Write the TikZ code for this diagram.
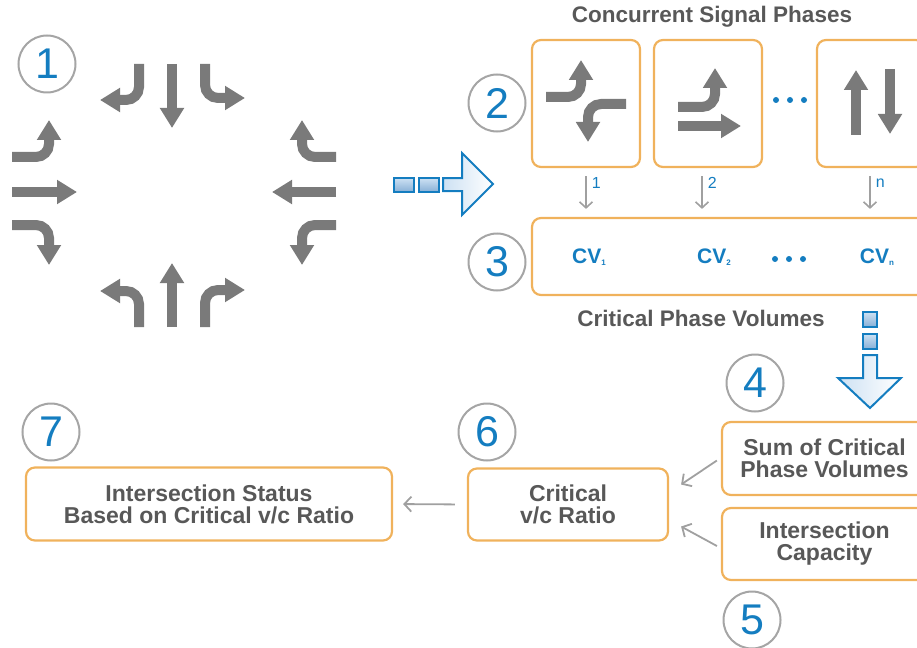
\documentclass[tikz,border=0pt]{standalone}
\usepackage{fontspec}
\setmainfont{Liberation Sans}
\usetikzlibrary{arrows.meta}

\definecolor{boxorange}{RGB}{240,178,92}
\definecolor{numblue}{RGB}{20,125,192}
\definecolor{lanegrey}{RGB}{122,122,122}
\definecolor{ringgrey}{RGB}{165,165,165}
\definecolor{textgrey}{RGB}{88,88,88}
\definecolor{flowgrey}{RGB}{160,160,160}
\definecolor{blockfill}{RGB}{205,225,243}
\definecolor{blocksq}{RGB}{135,175,214}

\tikzset{
  stepnum/.style={circle, draw=ringgrey, line width=2pt, minimum size=57pt,
    inner sep=0pt, text=numblue, font=\fontsize{43}{43}\selectfont},
  phasebox/.style={draw=boxorange, line width=2.2pt, rounded corners=9pt,
    minimum width=108pt, minimum height=127pt},
  infobox/.style={draw=boxorange, line width=2.2pt, rounded corners=9pt,
    align=center, text=textgrey, font=\fontsize{23}{22}\selectfont\bfseries},
  caption/.style={text=textgrey, font=\fontsize{22.5}{22}\selectfont\bfseries},
  cvtext/.style={text=numblue, font=\fontsize{21}{21}\selectfont\bfseries},
  lane/.style={line width=10pt, lanegrey, -{Triangle[width=23pt,length=20pt]}},
  turn/.style={lane, rounded corners=13pt},
  flow/.style={line width=1.8pt, flowgrey, -{Straight Barb[length=7pt,width=15pt]}},
  tick/.style={line width=1.6pt, flowgrey, -{Straight Barb[length=6pt,width=13pt]},
    shorten <=8pt, shorten >=8pt},
  ticklabel/.style={text=numblue, font=\fontsize{16}{16}\selectfont, inner sep=1pt},
  blockarrow/.style={draw=numblue, line width=2pt, line join=miter,
    left color=blockfill, right color=white},
  blocksquare/.style={draw=numblue, line width=1.6pt, top color=blockfill, bottom color=blocksq},
  dot/.style={circle, fill=numblue, inner sep=0pt, minimum size=6pt},
}
\newcommand{\sublabel}[1]{\raisebox{-2pt}{\fontsize{8}{8}\selectfont #1}}

\begin{document}
\begin{tikzpicture}[x=1pt, y=-1pt]
    \useasboundingbox (0,0) rectangle (917,647);
    \clip (0,0) rectangle (917,647);

    % Step numbers
    \node[stepnum] (n1) at (47,64) {1};
    \node[stepnum] (n2) at (497,103) {2};
    \node[stepnum] (n3) at (497,262) {3};
    \node[stepnum] (n4) at (755,383) {4};
    \node[stepnum] (n5) at (752,620) {5};
    \node[stepnum] (n6) at (487,432) {6};
    \node[stepnum] (n7) at (51,432) {7};

    % Intersection movements
    \draw[lane] (172,64) -- (172,128);
    \draw[turn] (139,64) |- (100,100);
    \draw[turn] (205,64) |- (245,98);
    \draw[lane] (172,327) -- (172,263);
    \draw[turn] (139,327) |- (100,291);
    \draw[turn] (205,327) |- (245,290);
    \draw[lane] (12,192) -- (77,192);
    \draw[turn] (12,157) -| (49,120);
    \draw[turn] (12,225) -| (49,265);
    \draw[lane] (336,192) -- (272,192);
    \draw[turn] (336,157) -| (302,120);
    \draw[turn] (336,225) -| (302,265);

    % Block arrow to the phases
    \draw[blocksquare] (394,178) rectangle (414,192);
    \draw[blocksquare] (419,178) rectangle (439,192);
    \draw[blockarrow] (443,178) -- (462,178) -- (462,153) -- (493,184)
        -- (462,215) -- (462,191) -- (443,191) -- cycle;

    % Concurrent signal phases
    \node[caption] (phasetitle) at (712,17) {Concurrent Signal Phases};
    \node[phasebox] (p1) at (586,103.5) {};
    \node[phasebox] (p2) at (708,103.5) {};
    \node[phasebox] (p3) at (871,103.5) {};
    \draw[turn] (546,97) -| (581,60);
    \draw[turn] (626,104) -| (588,142);
    \draw[turn] (678,107) -| (715,68);
    \draw[lane] (678,126) -- (741,126);
    \draw[lane] (856,135) -- (856,70);
    \draw[lane] (890,69) -- (890,134);
    \node[dot] (pd1) at (776,100) {};
    \node[dot] (pd2) at (790,100) {};
    \node[dot] (pd3) at (804,100) {};

    % Critical phase volumes
    \node[draw=boxorange, line width=2.2pt, rounded corners=9pt,
        minimum width=398pt, minimum height=77pt] (cvbox) at (731,256.5) {};
    \draw[tick] (p1.south) -- (p1.south |- cvbox.north) node[ticklabel, pos=0.3, right=4pt] {1};
    \draw[tick] ([xshift=-6pt]p2.south) -- ([xshift=-6pt]p2.south |- cvbox.north) node[ticklabel, pos=0.3, right=4pt] {2};
    \draw[tick] ([xshift=-1pt]p3.south) -- ([xshift=-1pt]p3.south |- cvbox.north) node[ticklabel, pos=0.3, right=4pt] {n};
    \node[cvtext] (cv1) at (589,257) {CV\sublabel{1}};
    \node[cvtext] (cv2) at (714,257) {CV\sublabel{2}};
    \node[cvtext] (cvn) at (877,257) {CV\sublabel{n}};
    \node[dot] (cd1) at (775,259) {};
    \node[dot] (cd2) at (789,259) {};
    \node[dot] (cd3) at (803,259) {};
    \node[caption] (cvtitle) at (701,318) {Critical Phase Volumes};

    % Block arrow down to the sum
    \draw[blocksquare] (863,312) rectangle (877,327);
    \draw[blocksquare] (863,334) rectangle (877,349);
    \draw[blockarrow] (863,355) -- (863,378) -- (838,378) -- (870,408)
        -- (901,378) -- (877,378) -- (877,355) -- cycle;

    % Ratio and status
    \node[infobox, minimum width=205pt, minimum height=73pt] (b4) at (824.5,458.5) {Sum of Critical\\Phase Volumes};
    \node[infobox, minimum width=205pt, minimum height=72pt] (b5) at (824.5,544) {Intersection\\Capacity};
    \node[infobox, minimum width=200pt, minimum height=72pt] (b6) at (568,504.5) {Critical\\v/c Ratio};
    \node[infobox, minimum width=366pt, minimum height=73pt] (b7) at (209,504) {Intersection Status\\Based on Critical v/c Ratio};
    \draw[flow] ([xshift=-4pt,yshift=-2pt]b4.west) -- ([xshift=12pt,yshift=20pt]b6.east);
    \draw[flow] ([xshift=-4pt,yshift=-2pt]b5.west) -- ([xshift=12pt,yshift=-22pt]b6.east);
    \draw[flow] (b6.west) -- (b7.east) [shorten <=12pt, shorten >=10pt];
\end{tikzpicture}
\end{document}
